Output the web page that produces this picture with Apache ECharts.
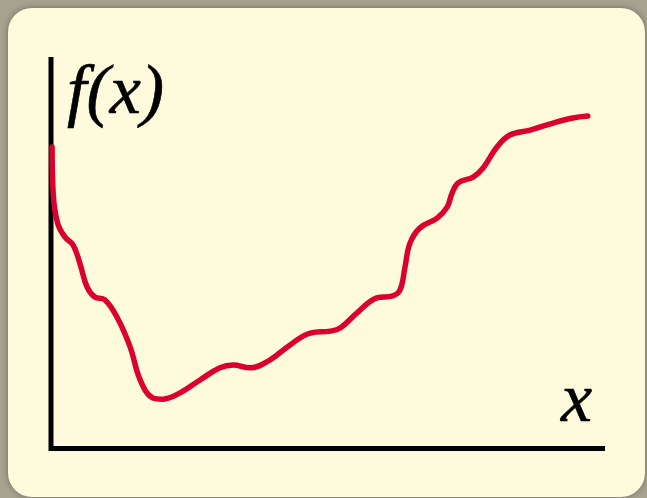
<!DOCTYPE html>
<html>
<head>
<meta charset="utf-8">
<style>
html,body{margin:0;padding:0;background:#a8a390;}
#chart{width:647px;height:498px;}
</style>
<script src="https://cdn.jsdelivr.net/npm/echarts@6/dist/echarts.min.js"></script>
</head>
<body>
<div id="chart"></div>
<script>
// Curve (x: 0-100 along axis, y: 0-100 up the axis)
const xValues = [0.2, 0.4, 1.2, 2.5, 4.0, 5.2, 6.5, 7.9, 9.7, 11.9, 14.3, 16.1, 18.4, 20.2, 23.3, 26.9, 30.5, 32.9, 35.9, 39.5, 43.1, 46.8, 50.4, 52.2, 55.2, 58.8, 61.7, 63.0, 63.9, 64.8, 66.6, 69.7, 71.5, 72.4, 73.5, 76.2, 78.0, 80.5, 82.9, 86.5, 90.6, 94.2, 96.9];
const yValues = [77.0, 65.0, 57.5, 54.0, 51.9, 47.3, 41.2, 38.6, 37.9, 33.5, 25.8, 17.4, 12.8, 12.5, 14.1, 17.4, 20.5, 21.2, 20.5, 22.5, 26.3, 29.4, 29.9, 30.7, 34.5, 38.4, 38.9, 40.4, 46.3, 52.4, 56.3, 58.8, 61.6, 65.2, 67.8, 69.3, 71.6, 77.0, 80.1, 81.3, 83.1, 84.4, 84.9];
const yLabel = 'f(x)';
const xLabel = 'x';

const data = xValues.map((x, i) => [x, yValues[i]]);
const chart = echarts.init(document.getElementById('chart'), null, {renderer: 'canvas'});
const labelFont = {fontFamily: 'Liberation Serif', fontStyle: 'italic', fontSize: 70, fill: '#000', stroke: '#000', lineWidth: 0.6};
chart.setOption({
  backgroundColor: '#a8a390',
  animation: false,
  grid: {left: 51, top: 57, width: 554, height: 391, containLabel: false},
  xAxis: {type: 'value', min: 0, max: 100, axisLine: {show: false}, axisTick: {show: false}, axisLabel: {show: false}, splitLine: {show: false}},
  yAxis: {type: 'value', min: 0, max: 100, axisLine: {show: false}, axisTick: {show: false}, axisLabel: {show: false}, splitLine: {show: false}},
  graphic: [
    {type: 'rect', z: -10, shape: {x: 8, y: 8, width: 637, height: 489, r: 24},
     style: {fill: '#fefadc', shadowBlur: 6, shadowColor: 'rgba(60,55,40,0.5)'}},
    {type: 'line', z: 5, shape: {x1: 51, y1: 57, x2: 51, y2: 451}, style: {stroke: '#000', lineWidth: 5}},
    {type: 'line', z: 5, shape: {x1: 49, y1: 448.5, x2: 605, y2: 448.5}, style: {stroke: '#000', lineWidth: 5}},
    {type: 'text', z: 5, style: Object.assign({text: yLabel, x: 67, y: 130, verticalAlign: 'bottom'}, labelFont)},
    {type: 'text', z: 5, style: Object.assign({text: xLabel, x: 561, y: 438, verticalAlign: 'bottom'}, labelFont)}
  ],
  series: [{
    type: 'line', data: data, smooth: 0.4, showSymbol: false, symbol: 'none', z: 10,
    lineStyle: {color: '#dc002e', width: 5.5, cap: 'round'}
  }]
});
</script>
</body>
</html>
